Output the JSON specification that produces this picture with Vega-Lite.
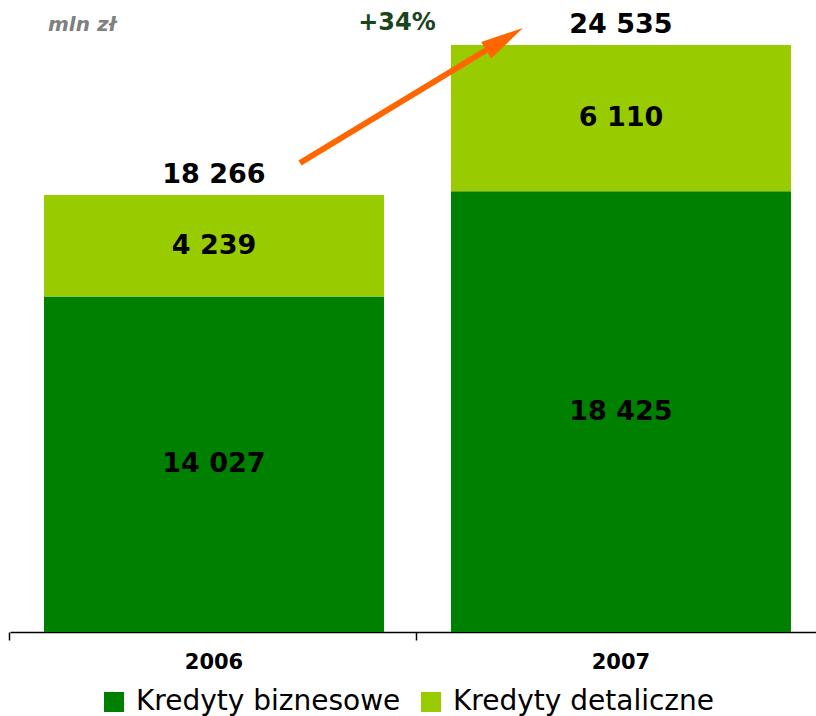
{
  "$schema": "https://vega.github.io/schema/vega-lite/v6.json",
  "autosize": "none",
  "width": 806,
  "height": 632,
  "padding": {"left": 10, "top": 0, "right": 0, "bottom": 84},
  "config": {
    "view": {"stroke": null},
    "locale": {"number": {"decimal": ",", "thousands": " ", "grouping": [3], "currency": ["", " zł"]}},
    "font": "DejaVu Sans"
  },
  "data": {
    "values": [
      {"year": "2006", "type": "Kredyty biznesowe", "value": 14027},
      {"year": "2006", "type": "Kredyty detaliczne", "value": 4239},
      {"year": "2007", "type": "Kredyty biznesowe", "value": 18425},
      {"year": "2007", "type": "Kredyty detaliczne", "value": 6110}
    ]
  },
  "encoding": {
    "x": {
      "field": "year",
      "type": "nominal",
      "scale": {"paddingInner": 0.1646, "paddingOuter": 0.0725, "align": 0.576},
      "axis": {
        "title": null,
        "labelAngle": 0,
        "labelFont": "DejaVu Sans",
        "labelFontWeight": "bold",
        "labelFontSize": 21,
        "labelColor": "#000000",
        "domainColor": "#000000",
        "domainWidth": 1.5,
        "tickColor": "#000000",
        "tickWidth": 1.5,
        "tickSize": 8,
        "labelPadding": 11,
        "bandPosition": -0.1,
        "grid": false
      }
    }
  },
  "layer": [
    {
      "mark": {"type": "bar"},
      "encoding": {
        "y": {
          "field": "value",
          "type": "quantitative",
          "stack": "zero",
          "scale": {"domain": [0, 26416], "nice": false, "zero": true},
          "axis": null
        },
        "color": {
          "field": "type",
          "type": "nominal",
          "scale": {"domain": ["Kredyty biznesowe", "Kredyty detaliczne"], "range": ["#008000", "#99CC00"]},
          "legend": {
            "title": null,
            "orient": "none",
            "legendX": 90,
            "legendY": 688,
            "direction": "horizontal",
            "symbolType": "square",
            "symbolSize": 400,
            "symbolStrokeWidth": 0,
            "labelFont": "DejaVu Sans",
            "labelFontSize": 28,
            "labelLimit": 500,
            "labelColor": "#000000",
            "labelOffset": 8,
            "columnPadding": 16
          }
        },
        "order": {"field": "type", "sort": "ascending"}
      }
    },
    {
      "transform": [
        {"stack": "value", "groupby": ["year"], "sort": [{"field": "type", "order": "ascending"}], "as": ["v0", "v1"]},
        {"fold": ["v0", "v1"], "as": ["edge", "pos"]}
      ],
      "mark": {"type": "text", "font": "DejaVu Sans", "fontWeight": "bold", "fontSize": 27, "color": "#000000", "baseline": "middle", "align": "center"},
      "encoding": {
        "y": {"aggregate": "mean", "field": "pos", "type": "quantitative", "stack": null},
        "text": {"field": "value", "type": "quantitative", "format": ",d"},
        "detail": {"field": "type", "type": "nominal"}
      }
    },
    {
      "mark": {"type": "text", "font": "DejaVu Sans", "fontWeight": "bold", "fontSize": 27, "color": "#000000", "baseline": "alphabetic", "align": "center", "dy": -12},
      "encoding": {
        "y": {"aggregate": "sum", "field": "value", "type": "quantitative", "stack": null},
        "text": {"aggregate": "sum", "field": "value", "type": "quantitative", "format": ",d"}
      }
    },
    {
      "data": {"values": [{"from": "2006", "to": "2007", "start": 18266, "end": 24535, "change": "+34%", "unit": "mln zł", "top": 26416}]},
      "layer": [
        {
          "mark": {"type": "rule", "color": "#FF6600", "strokeWidth": 6, "xOffset": 86, "x2Offset": -128, "yOffset": -32, "y2Offset": 1},
          "encoding": {
            "x": {"field": "from", "type": "nominal"},
            "x2": {"field": "to"},
            "y": {"field": "start", "type": "quantitative"},
            "y2": {"field": "end"}
          }
        },
        {
          "mark": {"type": "point", "shape": "M0,-1L0.45,1L-0.45,1Z", "filled": true, "opacity": 1, "color": "#FF6600", "strokeWidth": 0, "size": 1849, "angle": 58.8, "xOffset": -116.4, "yOffset": -5.9},
          "encoding": {
            "x": {"field": "to", "type": "nominal"},
            "y": {"field": "end", "type": "quantitative"}
          }
        },
        {
          "mark": {"type": "text", "font": "DejaVu Sans", "fontWeight": "bold", "fontSize": 24, "color": "#1a441a", "baseline": "alphabetic", "align": "center", "dx": -224, "dy": -15},
          "encoding": {
            "x": {"field": "to", "type": "nominal"},
            "y": {"field": "end", "type": "quantitative"},
            "text": {"field": "change"}
          }
        },
        {
          "mark": {"type": "text", "font": "DejaVu Sans", "fontWeight": "bold", "fontStyle": "italic", "fontSize": 20, "color": "#808080", "baseline": "alphabetic", "align": "left", "dx": -166, "dy": 31},
          "encoding": {
            "x": {"field": "from", "type": "nominal"},
            "y": {"field": "top", "type": "quantitative"},
            "text": {"field": "unit"}
          }
        }
      ]
    }
  ]
}
